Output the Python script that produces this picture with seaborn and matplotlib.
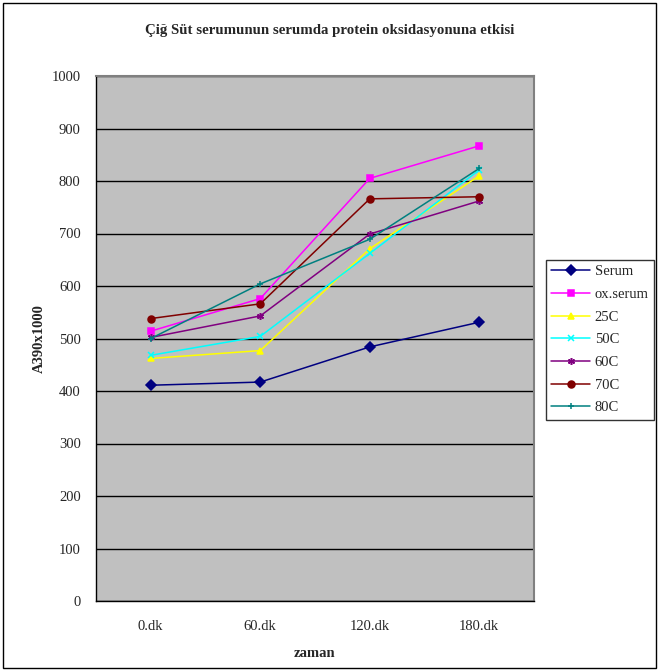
import matplotlib
matplotlib.use('Agg')
import matplotlib.pyplot as plt
import seaborn as sns
import pandas as pd
from matplotlib.patches import Rectangle

# Veriler
zaman = ['0.dk', '60.dk', '120.dk', '180.dk']
serum = [411, 417, 484, 531]
ox_serum = [514, 576, 805, 867]
c25 = [462, 477, 671, 810]
c50 = [468, 504, 662, 821]
c60 = [502, 543, 699, 762]
c70 = [538, 566, 766, 770]
c80 = [500, 604, 689, 824]

seriler = ['Serum', 'ox.serum', '25C', '50C', '60C', '70C', '80C']
degerler = [serum, ox_serum, c25, c50, c60, c70, c80]
renkler = ['#000080', '#FF00FF', '#FFFF00', '#00FFFF', '#800080', '#800000', '#008080']
isaretler = ['D', 's', '^', 'x', (6, 2, 0), 'o', '+']

sns.set_style('white')
plt.rcParams['font.family'] = ['Liberation Serif', 'DejaVu Serif']

fig = plt.figure(figsize=(6.59, 6.71), dpi=100)
ax = fig.add_axes([96 / 659, 70 / 671, 438 / 659, 525 / 671])
ax.set_facecolor('#C0C0C0')

# her seri ayrı çiziliyor (dolu ve çizgi işaretler karışık)
for ad, vals, renk, isaret in zip(seriler, degerler, renkler, isaretler):
    d = pd.DataFrame({'x': range(len(vals)), 'deger': vals})
    sns.lineplot(data=d, x='x', y='deger', color=renk, marker=isaret,
                 markersize=5, markeredgewidth=1.1, markeredgecolor=renk,
                 linewidth=1.1, label=ad, ax=ax)

ax.set_xlim(-0.5, 3.5)
ax.set_ylim(0, 1000)
ax.set_yticks(range(0, 1001, 100))
ax.set_xticks(range(4))
ax.set_xticklabels(zaman)
ax.set_xticks([-0.5, 0.5, 1.5, 2.5, 3.5], minor=True)
ax.tick_params(axis='x', which='major', length=0, pad=14, labelsize=10.5)
ax.tick_params(axis='x', which='minor', length=5, direction='out', width=1, color='black')
ax.tick_params(axis='y', length=5, direction='out', width=1, color='black', labelsize=10.5, pad=6)
ax.yaxis.grid(True, color='black', linewidth=1)
ax.set_axisbelow(True)

for s in ['top', 'right']:
    ax.spines[s].set_color('#808080')
    ax.spines[s].set_linewidth(1.5)
for s in ['left', 'bottom']:
    ax.spines[s].set_color('black')
    ax.spines[s].set_linewidth(1)

ax.set_xlabel('zaman', fontweight='bold', fontsize=10.5, labelpad=10)
ax.set_ylabel('A390x1000', fontweight='bold', fontsize=10.5, labelpad=4)
fig.text(0.5, 0.955, 'Çiğ Süt serumunun serumda protein oksidasyonuna etkisi',
         ha='center', va='center', fontweight='bold', fontsize=10.7)

handles, labels = ax.get_legend_handles_labels()
ax.get_legend().remove()
leg = fig.legend(handles, labels, loc='upper left',
                 bbox_to_anchor=(546 / 659, (671 - 260) / 671),
                 frameon=True, fancybox=False, shadow=False, fontsize=10.5,
                 handlelength=2.7, borderpad=0.35, labelspacing=0.65,
                 handletextpad=0.3, borderaxespad=0)
leg.get_frame().set_edgecolor('black')
leg.get_frame().set_linewidth(1)

# dış çerçeve
fig.patches.append(Rectangle((3 / 659, 3 / 671), 653 / 659, 665 / 671,
                             transform=fig.transFigure, fill=False,
                             edgecolor='black', linewidth=1))

fig.savefig('out.png', dpi=100)
plt.close()
